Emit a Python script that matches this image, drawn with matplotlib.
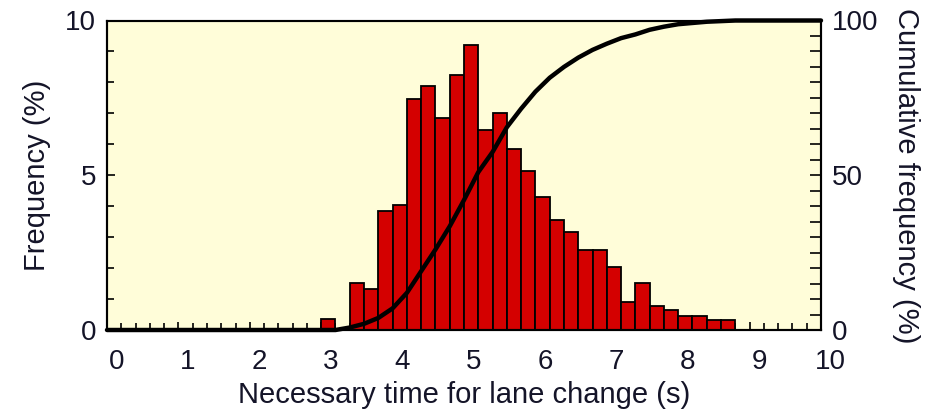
import numpy as np
import matplotlib.pyplot as plt
import matplotlib.transforms as mtransforms
from matplotlib.ticker import MultipleLocator

# histogram bins (0.2 s wide), left edges in seconds
bin_left = [3.0, 3.2, 3.4, 3.6, 3.8, 4.0, 4.2, 4.4, 4.6, 4.8, 5.0, 5.2, 5.4,
            5.6, 5.8, 6.0, 6.2, 6.4, 6.6, 6.8, 7.0, 7.2, 7.4, 7.6, 7.8, 8.0,
            8.2, 8.4, 8.6]
freq = [0.35, 0.0, 1.53, 1.31, 3.84, 4.04, 7.46, 7.88, 6.84, 8.24, 9.21, 6.46,
        7.02, 5.84, 5.14, 4.29, 3.55, 3.18, 2.58, 2.58, 2.03, 0.91, 1.51, 0.79,
        0.65, 0.45, 0.45, 0.32, 0.32]

# cumulative frequency curve (%)
cum_t = [0.0, 3.2, 3.4, 3.6, 3.8, 4.0, 4.2, 4.4, 4.6, 4.8, 5.0, 5.2, 5.4, 5.6,
         5.8, 6.0, 6.2, 6.4, 6.6, 6.8, 7.0, 7.2, 7.4, 7.6, 7.8, 8.0, 8.4, 8.8,
         10.0]
cum_pct = [0.0, 0.0, 0.8, 2.0, 3.9, 7.0, 12.0, 19.0, 26.0, 33.5, 42.0, 51.0,
           57.5, 65.5, 71.5, 77.0, 81.5, 85.0, 88.0, 90.5, 92.5, 94.3, 95.5,
           97.0, 98.0, 98.8, 99.6, 100.0, 100.0]

BG = "#fffdd9"
RED = "#d40000"
TXT = "#141428"

plt.rcParams["font.family"] = ["Liberation Sans", "DejaVu Sans"]

fig = plt.figure(figsize=(9.36, 4.2), dpi=100)
ax = fig.add_axes([107 / 936, 90 / 420, 714 / 936, 309.5 / 420])
ax.set_facecolor(BG)

ax.bar(bin_left, freq, width=0.2, align="edge", color=RED,
       edgecolor="black", linewidth=1.3, zorder=2)

ax.set_xlim(0, 10)
ax.set_ylim(0, 10)
ax.xaxis.set_major_locator(MultipleLocator(1))
ax.xaxis.set_minor_locator(MultipleLocator(0.2))
ax.yaxis.set_major_locator(MultipleLocator(5))
ax.yaxis.set_minor_locator(MultipleLocator(1))
ax.tick_params(which="both", direction="in", top=False, right=False,
               colors="black", width=1.2, labelsize=20, labelcolor=TXT)
ax.tick_params(which="major", length=6)
ax.tick_params(which="minor", length=5)
ax.tick_params(axis="x", pad=14)
ax.tick_params(axis="y", pad=8)
# tick labels sit a little to the right of their ticks in the original
shift = mtransforms.ScaledTranslation(7 / 72, 0, fig.dpi_scale_trans)
for lbl in ax.get_xticklabels():
    lbl.set_transform(lbl.get_transform() + shift)
ax.set_xlabel("Necessary time for lane change (s)", fontsize=21, color=TXT,
              labelpad=4)
ax.set_ylabel("Frequency (%)", fontsize=21, color=TXT, labelpad=10)
for s in ax.spines.values():
    s.set_linewidth(1.5)
ax.spines["top"].set_color("#555555")

ax2 = ax.twinx()
ax2.plot(cum_t, cum_pct, color="black", lw=3.2, solid_capstyle="round",
         clip_on=False, zorder=3)
ax2.set_ylim(0, 100)
ax2.yaxis.set_major_locator(MultipleLocator(50))
ax2.yaxis.set_minor_locator(MultipleLocator(5))
ax2.tick_params(which="both", direction="in", colors="black", width=1.2,
                labelsize=20, labelcolor=TXT, pad=8)
ax2.tick_params(which="major", length=8)
ax2.tick_params(which="minor", length=8)
ax2.set_ylabel("Cumulative frequency (%)", fontsize=21, color=TXT,
               rotation=270, labelpad=30)
for s in ax2.spines.values():
    s.set_linewidth(1.5)

fig.savefig("out.png", dpi=100, facecolor="white")
